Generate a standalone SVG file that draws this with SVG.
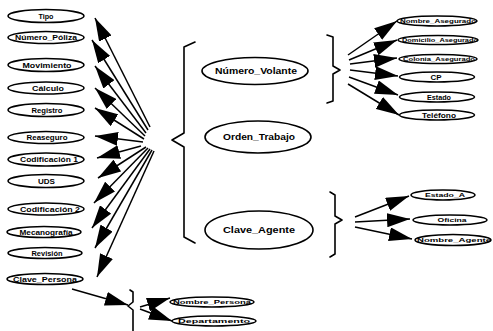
<svg xmlns="http://www.w3.org/2000/svg" width="493" height="331" viewBox="0 0 493 331">
  <style>
    .ent ellipse { fill: #fff; stroke: #000; stroke-width: 1.6; }
    .ent text { font-family: "Liberation Sans", Arial, sans-serif; font-weight: bold; fill: #000; text-anchor: middle; }
    .s { font-size: 7.5px; }
    .m { font-size: 9px; }
    .xs { font-size: 6px; }
    .brace { fill: none; stroke: #000; stroke-width: 1.6; stroke-linejoin: round; stroke-linecap: round; }
    #links line { stroke: #000; stroke-width: 1.5; marker-end: url(#ah); }
  </style>
  <defs>
    <!-- large filled arrowhead -->
    <marker id="ah" markerWidth="25" markerHeight="14" refX="23" refY="7" orient="auto" markerUnits="userSpaceOnUse">
      <path d="M0,0 L23,7 L0,14 Z" fill="#000"/>
    </marker>
  </defs>
  <rect width="493" height="331" fill="#fff"/>

  <!-- braces -->
  <g id="braces">
    <path class="brace" d="M195,42 L184,47 L184,133 L172,140 L184,147 L184,237 L195,243"/>
    <path class="brace" d="M327,35 L333,37 L333,66 L340,70 L333,74 L333,101 L327,103"/>
    <path class="brace" d="M330,192 L335,195 L335,216 L342,220 L335,224 L335,254 L330,257"/>
    <path class="brace" d="M130,290 L133,292 L133,302 L128,306 L133,310 L133,331"/>
  </g>

  <!-- connectors -->
  <g id="links">
    <line x1="150" y1="127" x2="95" y2="18"/>
    <line x1="148" y1="130" x2="92" y2="40"/>
    <line x1="146" y1="133" x2="95" y2="66"/>
    <line x1="145" y1="136" x2="95" y2="88"/>
    <line x1="144" y1="139" x2="95" y2="108"/>
    <line x1="143" y1="142" x2="95" y2="136"/>
    <line x1="141" y1="146" x2="97" y2="158"/>
    <line x1="146" y1="147" x2="98" y2="178"/>
    <line x1="148" y1="148" x2="94" y2="203"/>
    <line x1="150" y1="149" x2="92" y2="228"/>
    <line x1="152" y1="150" x2="95" y2="248"/>
    <line x1="154" y1="151" x2="97" y2="277"/>
    <line x1="72" y1="289" x2="128" y2="305"/>
    <line x1="140" y1="307" x2="170" y2="298"/>
    <line x1="140" y1="309" x2="172" y2="321"/>
    <line x1="348" y1="55" x2="397" y2="21"/>
    <line x1="349" y1="60" x2="397" y2="40"/>
    <line x1="350" y1="64" x2="397" y2="58"/>
    <line x1="350" y1="70" x2="398" y2="76"/>
    <line x1="349" y1="77" x2="398" y2="95"/>
    <line x1="348" y1="84" x2="399" y2="115"/>
    <line x1="355" y1="217" x2="409" y2="196"/>
    <line x1="355" y1="222" x2="410" y2="219"/>
    <line x1="355" y1="227" x2="412" y2="239"/>
  </g>

  <!-- left column -->
  <g id="tipo" class="ent"><ellipse cx="46" cy="16" rx="38" ry="6.5"/><text class="s" x="46" y="18.6" textLength="15" lengthAdjust="spacingAndGlyphs">Tipo</text></g>
  <g id="numero_poliza" class="ent"><ellipse cx="46" cy="37.5" rx="38" ry="6"/><text class="s" x="46" y="40.1" textLength="62" lengthAdjust="spacingAndGlyphs">Número_Póliza</text></g>
  <g id="movimiento" class="ent"><ellipse cx="46" cy="65" rx="38" ry="6.5"/><text class="s" x="47" y="67.6" textLength="49" lengthAdjust="spacingAndGlyphs">Movimiento</text></g>
  <g id="calculo" class="ent"><ellipse cx="46" cy="88" rx="38" ry="6"/><text class="s" x="48" y="90.6" textLength="32" lengthAdjust="spacingAndGlyphs">Cálculo</text></g>
  <g id="registro" class="ent"><ellipse cx="46" cy="110" rx="38" ry="6.5"/><text class="s" x="47" y="112.6" textLength="31" lengthAdjust="spacingAndGlyphs">Registro</text></g>
  <g id="reaseguro" class="ent"><ellipse cx="46" cy="137.5" rx="38" ry="6"/><text class="s" x="47" y="140.1" textLength="41" lengthAdjust="spacingAndGlyphs">Reaseguro</text></g>
  <g id="codificacion1" class="ent"><ellipse cx="46" cy="159.5" rx="38" ry="6.5"/><text class="s" x="49" y="162.1" textLength="58" lengthAdjust="spacingAndGlyphs">Codificación 1</text></g>
  <g id="uds" class="ent"><ellipse cx="46" cy="181" rx="38" ry="6.5"/><text class="s" x="46.5" y="183.6" textLength="17" lengthAdjust="spacingAndGlyphs">UDS</text></g>
  <g id="codificacion2" class="ent"><ellipse cx="46" cy="209" rx="38" ry="6"/><text class="s" x="50" y="211.6" textLength="60" lengthAdjust="spacingAndGlyphs">Codificación 2</text></g>
  <g id="mecanografia" class="ent"><ellipse cx="44" cy="232" rx="37" ry="5.5"/><text class="s" x="46" y="234.6" textLength="53" lengthAdjust="spacingAndGlyphs">Mecanografía</text></g>
  <g id="revision" class="ent"><ellipse cx="45" cy="253" rx="37" ry="5.5"/><text class="s" x="47" y="255.6" textLength="31" lengthAdjust="spacingAndGlyphs">Revisión</text></g>
  <g id="clave_persona" class="ent"><ellipse cx="45" cy="279" rx="38" ry="5.5"/><text class="s" x="45" y="281.6" textLength="64" lengthAdjust="spacingAndGlyphs">Clave_Persona</text></g>

  <!-- bottom group -->
  <g id="nombre_persona" class="ent"><ellipse cx="212" cy="302" rx="42" ry="5"/><text class="xs" x="212" y="304.2" textLength="78" lengthAdjust="spacingAndGlyphs">Nombre_Persona</text></g>
  <g id="departamento" class="ent"><ellipse cx="214" cy="321" rx="42" ry="5"/><text class="xs" x="214" y="323.2" textLength="72" lengthAdjust="spacingAndGlyphs">Departamento</text></g>

  <!-- middle column -->
  <g id="numero_volante" class="ent"><ellipse cx="255" cy="71" rx="53" ry="13.5"/><text class="m" x="256" y="74.2" textLength="82" lengthAdjust="spacingAndGlyphs">Número_Volante</text></g>
  <g id="orden_trabajo" class="ent"><ellipse cx="258" cy="137" rx="53" ry="16"/><text class="m" x="259" y="140.2" textLength="72" lengthAdjust="spacingAndGlyphs">Orden_Trabajo</text></g>
  <g id="clave_agente" class="ent"><ellipse cx="259" cy="230" rx="54" ry="19"/><text class="m" x="259" y="233.2" textLength="72" lengthAdjust="spacingAndGlyphs">Clave_Agente</text></g>

  <!-- right upper group -->
  <g id="nombre_asegurado" class="ent"><ellipse cx="437" cy="21" rx="40" ry="5"/><text class="xs" x="438" y="23.2" textLength="76" lengthAdjust="spacingAndGlyphs">Nombre_Asegurado</text></g>
  <g id="domicilio_asegurado" class="ent"><ellipse cx="438" cy="40" rx="40" ry="4.5"/><text class="xs" x="440" y="42.2" textLength="76" lengthAdjust="spacingAndGlyphs">Domicilio_Asegurado</text></g>
  <g id="colonia_asegurado" class="ent"><ellipse cx="438" cy="59" rx="39" ry="4.5"/><text class="xs" x="439" y="61.2" textLength="72" lengthAdjust="spacingAndGlyphs">Colonia_Asegurado</text></g>
  <g id="cp" class="ent"><ellipse cx="437" cy="77" rx="37.5" ry="5"/><text class="s" x="436" y="79.6" textLength="11" lengthAdjust="spacingAndGlyphs">CP</text></g>
  <g id="estado" class="ent"><ellipse cx="437" cy="97" rx="37.5" ry="5"/><text class="s" x="439" y="99.6" textLength="24" lengthAdjust="spacingAndGlyphs">Estado</text></g>
  <g id="telefono" class="ent"><ellipse cx="437" cy="115" rx="37.5" ry="5"/><text class="s" x="439" y="117.6" textLength="34" lengthAdjust="spacingAndGlyphs">Teléfono</text></g>

  <!-- right lower group -->
  <g id="estado_a" class="ent"><ellipse cx="443" cy="195" rx="32" ry="5"/><text class="xs" x="445" y="197.2" textLength="40" lengthAdjust="spacingAndGlyphs">Estado_A</text></g>
  <g id="oficina" class="ent"><ellipse cx="450" cy="220" rx="37" ry="5"/><text class="xs" x="452" y="222.2" textLength="29" lengthAdjust="spacingAndGlyphs">Oficina</text></g>
  <g id="nombre_agente" class="ent"><ellipse cx="453" cy="240" rx="38" ry="5.5"/><text class="xs" x="454" y="242.2" textLength="74" lengthAdjust="spacingAndGlyphs">Nombre_Agente</text></g>
</svg>
